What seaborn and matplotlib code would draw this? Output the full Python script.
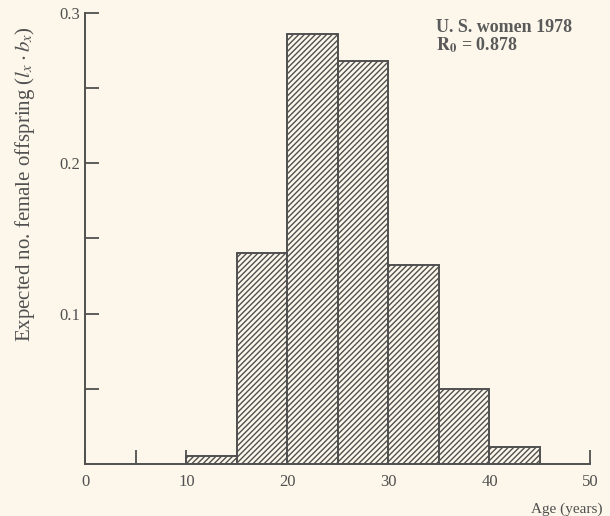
import seaborn as sns
import matplotlib.pyplot as plt
import pandas as pd

# age class midpoints (5-year classes) and l_x * b_x
ages = [12.5, 17.5, 22.5, 27.5, 32.5, 37.5, 42.5]
lxbx = [0.005, 0.140, 0.286, 0.268, 0.132, 0.050, 0.011]
xticks = [0, 10, 20, 30, 40, 50]
yticks = [0.1, 0.2, 0.3]
note = "U. S. women 1978\n$\\mathbf{R_0}$ = 0.878"

bg = "#fcf7ea"
ink = "#505050"

sns.set_theme(style="ticks")
plt.rcParams["font.family"] = ["Liberation Serif", "DejaVu Serif"]
plt.rcParams["mathtext.fontset"] = "stix"
plt.rcParams["hatch.linewidth"] = 1.0
plt.rcParams["hatch.color"] = "#9a9a9a"

df = pd.DataFrame({"age": ages, "lxbx": lxbx})

fig = plt.figure(figsize=(6.1, 5.16), dpi=100, facecolor=bg)
ax = fig.add_axes([0.140, 0.101, 0.828, 0.874], facecolor=bg)

sns.histplot(data=df, x="age", weights="lxbx", binwidth=5, binrange=(10, 45),
             stat="count", fill=True, color=bg, edgecolor=ink, linewidth=1.4,
             alpha=1, ax=ax)
for p in ax.patches:
    p.set_hatch("//////")
    p.set_facecolor(bg)
    p.set_edgecolor(ink)

ax.set_xlim(0, 50)
ax.set_ylim(0, 0.3)
ax.set_xticks(xticks)
ax.set_xticks([5], minor=True)
ax.set_yticks(yticks)
ax.set_yticks([0.05, 0.15, 0.25], minor=True)
ax.set_yticklabels([f"{v:.1f}" for v in yticks])
ax.tick_params(axis="both", which="both", direction="in", length=10, width=1.3,
               color=ink, labelcolor=ink, labelsize=12)
ax.tick_params(axis="x", pad=7)
ax.tick_params(axis="y", pad=4)

for s in ["top", "right"]:
    ax.spines[s].set_visible(False)
for s in ["left", "bottom"]:
    ax.spines[s].set_color(ink)
    ax.spines[s].set_linewidth(1.4)

ax.set_xlabel("Age (years)", fontsize=11, color=ink)
ax.xaxis.set_label_coords(1.024, -0.085)
ax.xaxis.label.set_horizontalalignment("right")
ax.set_ylabel(r"Expected no. female offspring ($l_x \cdot b_x$)", fontsize=15, color=ink)
ax.yaxis.set_label_coords(-0.095, 0.62)

ax.text(0.695, 0.987, note, transform=ax.transAxes, ha="left", va="top",
        fontsize=13, fontweight="bold", color="#5a5a5a", linespacing=1.0)

fig.savefig("out.png", dpi=100, facecolor=bg)
